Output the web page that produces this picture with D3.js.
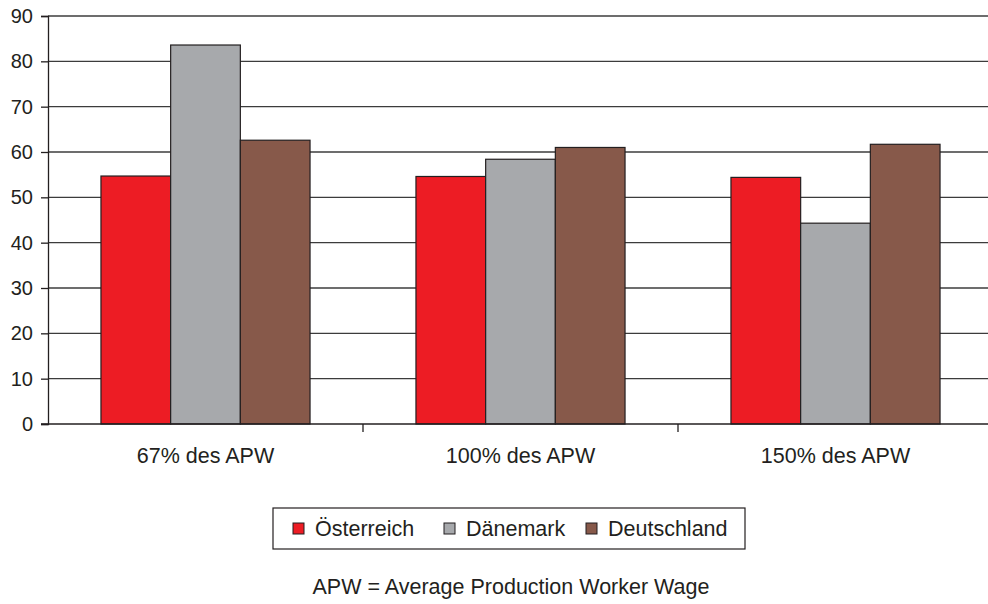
<!DOCTYPE html>
<html>
<head>
<meta charset="utf-8">
<script src="https://cdn.jsdelivr.net/npm/d3@7"></script>
<style>
  body { margin: 0; background: #fff; }
  svg text { font-family: "Liberation Sans", Arial, Helvetica, sans-serif; fill: #231f20; }
</style>
</head>
<body>
<script>
// #Data
const categories = ['67% des APW', '100% des APW', '150% des APW'];
const series = ['Österreich', 'Dänemark', 'Deutschland'];
const values = {
    'Österreich':  [54.7, 54.6, 54.4],
    'Dänemark':    [83.6, 58.4, 44.3],
    'Deutschland': [62.6, 61.0, 61.7]
};
const yTicks = [0, 10, 20, 30, 40, 50, 60, 70, 80, 90];
const colors = ['#ed1c24', '#a7a9ac', '#87594a'];
const footnote = 'APW = Average Production Worker Wage';

// #Define SVG
const width = 988, height = 604;
const margin = {top: 16, left: 48, bottom: 424};

const svg = d3.select('body')
              .append('svg')
              .attr('width', width)
              .attr('height', height);

// #Scales
const x = d3.scaleBand()
            .domain(categories)
            .range([margin.left, 993])
            .padding(0);

const xSub = d3.scaleBand()
               .domain(series)
               .range([0, x.bandwidth()])
               .paddingInner(0)
               .paddingOuter(0.76);

const y = d3.scaleLinear()
            .domain([0, 90])
            .range([margin.bottom, margin.top]);

const color = d3.scaleOrdinal().domain(series).range(colors);

// #Gridlines
svg.append('g')
   .selectAll('line')
   .data(yTicks.filter(d => d > 0))
   .enter()
   .append('line')
   .attr('x1', margin.left)
   .attr('x2', width)
   .attr('y1', d => y(d))
   .attr('y2', d => y(d))
   .attr('stroke', '#3c3c3c')
   .attr('stroke-width', 1.3);

// #Bars
const rows = categories.flatMap((c, i) => series.map(s => ({cat: c, ser: s, val: values[s][i]})));

svg.append('g')
   .selectAll('rect')
   .data(rows)
   .enter()
   .append('rect')
   .attr('x', d => x(d.cat) + xSub(d.ser))
   .attr('y', d => y(d.val))
   .attr('width', xSub.bandwidth())
   .attr('height', d => y(0) - y(d.val))
   .attr('fill', d => color(d.ser))
   .attr('stroke', '#231f20')
   .attr('stroke-width', 1.2);

// #Y axis
const yAxis = svg.append('g')
                 .attr('transform', 'translate(' + margin.left + ',0)')
                 .call(d3.axisLeft(y).tickValues(yTicks).tickSize(7).tickPadding(8));
yAxis.select('.domain').attr('stroke', '#231f20').attr('stroke-width', 1.3);
yAxis.selectAll('.tick line').attr('stroke', '#231f20').attr('stroke-width', 1.3);
yAxis.selectAll('.tick text').style('font-size', '20px').attr('fill', '#231f20');

// #X axis
svg.append('line')
   .attr('x1', margin.left - 7)
   .attr('x2', width)
   .attr('y1', y(0))
   .attr('y2', y(0))
   .attr('stroke', '#231f20')
   .attr('stroke-width', 1.3);

svg.append('g')
   .selectAll('line')
   .data(categories.slice(1))
   .enter()
   .append('line')
   .attr('x1', d => x(d))
   .attr('x2', d => x(d))
   .attr('y1', y(0))
   .attr('y2', y(0) + 8)
   .attr('stroke', '#231f20')
   .attr('stroke-width', 1.3);

svg.append('g')
   .selectAll('text')
   .data(categories)
   .enter()
   .append('text')
   .attr('x', d => x(d) + x.bandwidth() / 2)
   .attr('y', 463)
   .attr('text-anchor', 'middle')
   .style('font-size', '21.5px')
   .text(d => d);

// #Legend
const legend = svg.append('g').attr('transform', 'translate(273,508)');
legend.append('rect')
      .attr('width', 472)
      .attr('height', 41)
      .attr('fill', '#fff')
      .attr('stroke', '#231f20')
      .attr('stroke-width', 1.2);

const legendX = [20, 171, 313];
const item = legend.selectAll('g.item')
                   .data(series)
                   .enter()
                   .append('g')
                   .attr('class', 'item')
                   .attr('transform', (d, i) => 'translate(' + legendX[i] + ',0)');
item.append('rect')
    .attr('x', 0)
    .attr('y', 15)
    .attr('width', 11)
    .attr('height', 11)
    .attr('fill', d => color(d))
    .attr('stroke', '#231f20')
    .attr('stroke-width', 1);
item.append('text')
    .attr('x', 22)
    .attr('y', 28)
    .style('font-size', '21.5px')
    .text(d => d);

// #Footnote
svg.append('text')
   .attr('x', 511)
   .attr('y', 594)
   .attr('text-anchor', 'middle')
   .style('font-size', '21.5px')
   .text(footnote);
</script>
</body>
</html>
